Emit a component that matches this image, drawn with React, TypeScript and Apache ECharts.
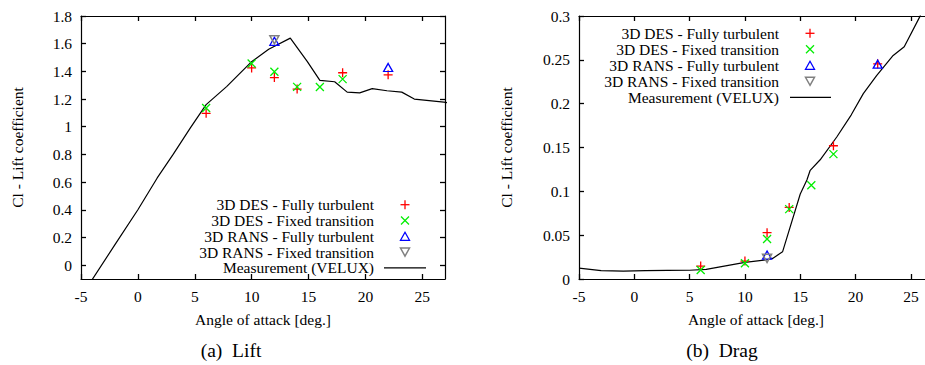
import React, { useEffect, useRef } from "react";
import * as echarts from "echarts";

// ---------- data ----------
const xTicks = [-5, 0, 5, 10, 15, 20, 25];
const liftTicks = [0, 0.2, 0.4, 0.6, 0.8, 1, 1.2, 1.4, 1.6, 1.8];
const dragTicks = [0, 0.05, 0.1, 0.15, 0.2, 0.25, 0.3];

const legendLabels = [
  "3D DES - Fully turbulent",
  "3D DES - Fixed transition",
  "3D RANS - Fully turbulent",
  "3D RANS - Fixed transition",
  "Measurement (VELUX)",
];

const liftDesFully = [[6, 1.097], [10, 1.425], [12, 1.355], [14, 1.272], [18, 1.39], [22, 1.375]];
const liftDesFixed = [[6, 1.135], [10, 1.457], [12, 1.397], [14, 1.288], [16, 1.287], [18, 1.344]];
const liftRansFully = [[12, 1.617], [22, 1.428]];
const liftRansFixed = [[12, 1.628]];
const liftMeasured = [
  [-4.3, -0.14], [-2, 0.15], [0, 0.4], [1.7, 0.63], [3.1, 0.8], [4.6, 0.99], [6, 1.16],
  [7.8, 1.29], [10, 1.47], [11.5, 1.56], [13.4, 1.64], [14.9, 1.47], [16, 1.335],
  [17.3, 1.325], [18.4, 1.25], [19.5, 1.245], [20.6, 1.275], [21.9, 1.26], [23.2, 1.25],
  [24.3, 1.2], [26.9, 1.178], [28, 1.16],
];

const dragDesFully = [[6, 0.0148], [10, 0.0205], [12, 0.0528], [14, 0.0817], [18, 0.152], [22, 0.2455]];
const dragDesFixed = [[6, 0.0103], [10, 0.018], [12, 0.0456], [14, 0.0797], [16, 0.107], [18, 0.1424]];
const dragRansFully = [[12, 0.0273], [22, 0.245]];
const dragRansFixed = [[12, 0.0236]];
const dragMeasured = [
  [-5, 0.0125], [-3, 0.0095], [-1, 0.009], [1, 0.0095], [3, 0.0098], [5, 0.01], [6.5, 0.011],
  [8, 0.0145], [10, 0.019], [12, 0.022], [12.5, 0.0235], [13.4, 0.031], [15, 0.097],
  [15.6, 0.113], [15.9, 0.124], [16.8, 0.136], [18.3, 0.162], [19.6, 0.187], [20.7, 0.2115],
  [21.9, 0.232], [23.4, 0.255], [24.4, 0.265], [25.8, 0.299], [26.5, 0.32],
];

// ---------- styling ----------
const FONT = "'Liberation Serif', 'Times New Roman', serif";
const FS = 15.5;
const RED = "#ff0000";
const GREEN = "#00ee00";
const BLUE = "#0000ff";
const GRAY = "#808080";

const PLUS = "path://M0,5L10,5M5,0L5,10";
const CROSS = "path://M0,0L10,10M10,0L0,10";

function makeAxis(gridIndex: number, min: number, max: number, values: number[], position: string, labels: boolean) {
  return {
    type: "value",
    gridIndex,
    min,
    max,
    position,
    z: 10,
    axisLine: { show: true, onZero: false, lineStyle: { color: "#000", width: 1.2 } },
    axisTick: { show: true, inside: true, length: 5, customValues: values, lineStyle: { color: "#000", width: 1.3 } },
    axisLabel: labels
      ? { show: true, customValues: values, color: "#000", fontSize: FS, fontFamily: FONT, margin: 9 }
      : { show: false, customValues: values },
    splitLine: { show: false },
  };
}

function seriesFor(xi: number, yi: number, desFully: number[][], desFixed: number[][], ransFully: number[][], ransFixed: number[][], measured: number[][]) {
  return [
    {
      name: legendLabels[0], type: "scatter", xAxisIndex: xi, yAxisIndex: yi, data: desFully,
      symbol: PLUS, symbolSize: 9,
      itemStyle: { color: "transparent", borderColor: RED, borderWidth: 1.3, opacity: 1 },
    },
    {
      name: legendLabels[1], type: "scatter", xAxisIndex: xi, yAxisIndex: yi, data: desFixed,
      symbol: CROSS, symbolSize: 8,
      itemStyle: { color: "transparent", borderColor: GREEN, borderWidth: 1.3, opacity: 1 },
    },
    {
      name: legendLabels[2], type: "scatter", xAxisIndex: xi, yAxisIndex: yi, data: ransFully,
      symbol: "triangle", symbolSize: [9, 8],
      itemStyle: { color: "transparent", borderColor: BLUE, borderWidth: 1.3, opacity: 1 },
    },
    {
      name: legendLabels[3], type: "scatter", xAxisIndex: xi, yAxisIndex: yi, data: ransFixed,
      symbol: "triangle", symbolRotate: 180, symbolSize: [9, 8],
      itemStyle: { color: "transparent", borderColor: GRAY, borderWidth: 1.5, opacity: 1 },
    },
    {
      name: legendLabels[4], type: "line", xAxisIndex: xi, yAxisIndex: yi, data: measured,
      showSymbol: false, symbol: "none", clip: true,
      lineStyle: { color: "#000", width: 1.2 },
      z: 1,
    },
  ];
}

function legendGraphics(tx: number, sx: number, lx1: number, lx2: number, y0: number, dy: number) {
  const els: any[] = [];
  legendLabels.forEach((label, i) => {
    els.push({
      type: "text",
      x: tx,
      y: y0 + i * dy,
      style: {
        text: label, fill: "#000", fontSize: FS, fontFamily: FONT,
        align: "right", textAlign: "right", verticalAlign: "middle", textVerticalAlign: "middle",
      },
    });
  });
  const ln = (x1: number, y1: number, x2: number, y2: number, c: string, w = 1.3) => ({
    type: "line", shape: { x1, y1, x2, y2 }, style: { stroke: c, lineWidth: w },
  });
  let y = y0;
  els.push(ln(sx - 4.5, y, sx + 4.5, y, RED), ln(sx, y - 4.5, sx, y + 4.5, RED));
  y = y0 + dy;
  els.push(ln(sx - 4, y - 4, sx + 4, y + 4, GREEN), ln(sx + 4, y - 4, sx - 4, y + 4, GREEN));
  y = y0 + 2 * dy;
  els.push({
    type: "polygon", shape: { points: [[sx, y - 4], [sx + 4.5, y + 4], [sx - 4.5, y + 4]] },
    style: { fill: "none", stroke: BLUE, lineWidth: 1.3 },
  });
  y = y0 + 3 * dy;
  els.push({
    type: "polygon", shape: { points: [[sx, y + 4], [sx + 4.5, y - 4], [sx - 4.5, y - 4]] },
    style: { fill: "none", stroke: GRAY, lineWidth: 1.5 },
  });
  y = y0 + 4 * dy;
  els.push(ln(lx1, y, lx2, y, "#000", 1.2));
  return els;
}

function textEl(text: string, x: number, y: number, size: number, rotate = false) {
  return {
    type: "text",
    x, y,
    rotation: rotate ? Math.PI / 2 : 0,
    style: {
      text, fill: "#000", fontSize: size, fontFamily: FONT,
      align: "center", textAlign: "center", verticalAlign: "middle", textVerticalAlign: "middle",
    },
  };
}

export default function App() {
  const ref = useRef<HTMLDivElement>(null);
  useEffect(() => {
    document.body.style.margin = "0";
    if (!ref.current) return;
    const chart = echarts.init(ref.current, undefined, { renderer: "svg" });
    const option: any = {
      animation: false,
      backgroundColor: "#fff",
      grid: [
        { left: 81, top: 16, width: 364, height: 263, outerBoundsMode: "none" },
        { left: 579, top: 16, width: 354, height: 263, outerBoundsMode: "none" },
      ],
      xAxis: [
        makeAxis(0, -5, 27, xTicks, "bottom", true),
        makeAxis(0, -5, 27, xTicks, "top", false),
        makeAxis(1, -5, 27, xTicks, "bottom", true),
        makeAxis(1, -5, 27, xTicks, "top", false),
      ],
      yAxis: [
        makeAxis(0, -0.1, 1.8, liftTicks, "left", true),
        makeAxis(0, -0.1, 1.8, liftTicks, "right", false),
        makeAxis(1, 0, 0.3, dragTicks, "left", true),
        makeAxis(1, 0, 0.3, dragTicks, "right", false),
      ],
      series: [
        ...seriesFor(0, 0, liftDesFully, liftDesFixed, liftRansFully, liftRansFixed, liftMeasured),
        ...seriesFor(2, 2, dragDesFully, dragDesFixed, dragRansFully, dragRansFixed, dragMeasured),
      ],
      graphic: [
        ...legendGraphics(374, 405, 384, 426, 204.7, 15.8),
        ...legendGraphics(779, 810, 790, 831, 33.3, 16),
        textEl("Cl - Lift coefficient", 17.5, 147.5, FS, true),
        textEl("Cl - Lift coefficient", 506, 147.5, FS, true),
        textEl("Angle of attack [deg.]", 263, 319, FS),
        textEl("Angle of attack [deg.]", 756, 319, FS),
        textEl("(a)\u00a0\u00a0Lift", 231, 350, 19.5),
        textEl("(b)\u00a0\u00a0Drag", 722, 350, 19.5),
      ],
    };
    chart.setOption(option);
    return () => chart.dispose();
  }, []);
  return <div ref={ref} style={{ width: 925, height: 365 }} />;
}
